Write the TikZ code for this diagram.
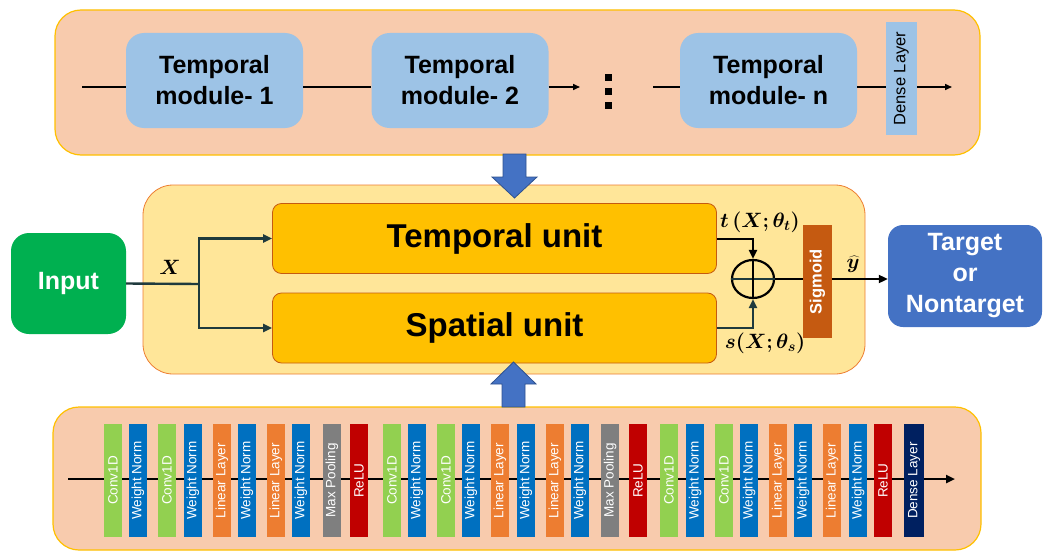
\documentclass[tikz,border=0pt]{standalone}
\usepackage{fontspec}
\setmainfont{Liberation Sans}
\usepackage{bm}
\usetikzlibrary{positioning,arrows.meta,shapes.geometric}

\definecolor{peach}{HTML}{F8CBAD}
\definecolor{gold}{HTML}{FFC000}
\definecolor{paleyellow}{HTML}{FFE699}
\definecolor{panelorange}{HTML}{ED7D31}
\definecolor{rust}{HTML}{C55A11}
\definecolor{skyblue}{HTML}{9DC3E6}
\definecolor{inputgreen}{HTML}{00B050}
\definecolor{targetblue}{HTML}{4472C4}
\definecolor{arrowedge}{HTML}{2F528F}
\definecolor{darkteal}{HTML}{1F3A3D}
\definecolor{convgreen}{HTML}{92D050}
\definecolor{normblue}{HTML}{0070C0}
\definecolor{linorange}{HTML}{ED7D31}
\definecolor{poolgray}{HTML}{7F7F7F}
\definecolor{relured}{HTML}{C00000}
\definecolor{densenavy}{HTML}{002060}

\tikzset{
  panel/.style={rounded corners=26pt, fill=peach, draw=gold, line width=1.2pt},
  midpanel/.style={rounded corners=30pt, fill=paleyellow, draw=panelorange, line width=0.8pt},
  module/.style={rounded corners=18pt, fill=skyblue, minimum width=177pt, minimum height=95pt,
    inner sep=0pt, align=center, font=\fontsize{25}{31}\selectfont\bfseries},
  unitbox/.style={rounded corners=9pt, fill=gold, draw=rust, line width=0.8pt, minimum width=444pt,
    minimum height=70pt, inner sep=0pt, font=\fontsize{33}{33}\selectfont\bfseries},
  bar/.style={rotate=90, minimum width=113pt, minimum height=18pt, inner sep=0pt, text=white,
    font=\fontsize{13.5}{13.5}\selectfont},
  mathlabel/.style={inner sep=0pt, font=\fontsize{21}{21}\selectfont},
  link/.style={line width=2pt},
  xlink/.style={line width=2.4pt, darkteal},
  thinlink/.style={line width=1.5pt},
  tip/.style={-{Triangle[length=9pt,width=8pt]}},
  smalltip/.style={-{Triangle[length=7pt,width=6pt]}},
  bigarrow/.style={fill=targetblue, draw=arrowedge, line width=0.8pt},
}

\begin{document}
\begin{tikzpicture}[x=1pt,y=-1pt]
\useasboundingbox (0,0) rectangle (1051,551);

% Temporal modules (top)
\draw[panel] (55,10) rectangle (980,155);
\coordinate (tin) at (82,87);
\coordinate (gapa) at (580,87);
\coordinate (gapb) at (653,87);
\coordinate (tout) at (952,87);
\node[module] (m1) at (214.5,80.5) {Temporal\\module- 1};
\node[module] (m2) at (460,80.5) {Temporal\\module- 2};
\node[module] (mn) at (768.5,80.5) {Temporal\\module- n};
\node[rotate=90, fill=skyblue, minimum width=113pt, minimum height=31pt, inner sep=0pt,
  font=\fontsize{16.5}{16.5}\selectfont] (dense) at (901.5,78.5) {Dense Layer};
\draw[thinlink] (tin) -- (tin -| m1.west);
\draw[thinlink] (m1.east |- tin) -- (m2.west |- tin);
\draw[thinlink,smalltip] (m2.east |- tin) -- (gapa);
\foreach \y in {77,91,105}
  \fill (605,\y-3.5) rectangle +(7,7);
\draw[thinlink] (gapb) -- (gapb -| mn.west);
\draw[thinlink] (mn.east |- tin) -- (dense.north |- tin);
\draw[thinlink,smalltip] (dense.south |- tin) -- (tout);

% Spatio-temporal block (middle)
\draw[midpanel] (143,185) rectangle (865,374);
\node[unitbox] (tu) at (494.5,238.5) {Temporal unit};
\node[unitbox] (su) at (494.5,328) {Spatial unit};
\node[rounded corners=18pt, fill=inputgreen, minimum width=115pt, minimum height=101pt, inner sep=0pt,
  text=white, font=\fontsize{25}{25}\selectfont\bfseries] (input) at (68.5,283.5) {Input};
\node[rounded corners=15pt, fill=targetblue, minimum width=154pt, minimum height=102pt, inner sep=0pt,
  text=white, align=center, font=\fontsize{25}{31}\selectfont\bfseries] (target) at (965,276) {Target\\or\\Nontarget};
\node[draw, ellipse, line width=2.2pt, minimum width=42pt, minimum height=38pt, inner sep=0pt] (plus) at (753,279) {};
\draw[xlink] (plus.west) -- (plus.east);
\draw[link] (plus.north) -- (plus.south);
\coordinate (split) at (199,284);
\draw[xlink] (input.east) -- (split);
\draw[xlink,tip] (split) |- (tu.west);
\draw[xlink,tip] (split) |- (su.west);
\draw[link,tip] (tu.east) -| (plus.north);
\draw[xlink,tip] (su.east) -| (plus.south);
\node[rotate=90, fill=rust, minimum width=113pt, minimum height=29pt, inner sep=0pt, text=white,
  font=\fontsize{16.5}{16.5}\selectfont\bfseries] (sig) at (817.5,281.5) {Sigmoid};
\draw[link] (plus.east) -- (sig.north |- plus.east);
\draw[link,tip] (sig.south |- plus.east) -- (target.west |- plus.east);
\node[mathlabel] (xlab) at (170,267) {$\bm{X}$};
\node[mathlabel] (tlab) at (760,222) {$\bm{t\,(X;\theta_t)}$};
\node[mathlabel] (slab) at (765,343) {$\bm{s(X;\theta_s)}$};
\node[mathlabel] (yhat) at (853,264) {$\bm{\widehat{y}}$};

% Layer stack (bottom)
\draw[panel] (53,407) rectangle (981,550);
\coordinate (bin) at (68,479);
\coordinate (bout) at (955,479);
\draw[line width=2.5pt,tip] (bin) -- (bout);
\foreach \x/\c/\t [count=\i] in {
  113/convgreen/Conv1D, 138/normblue/Weight Norm, 167/convgreen/Conv1D, 193/normblue/Weight Norm,
  222/linorange/Linear Layer, 247/normblue/Weight Norm, 276/linorange/Linear Layer, 301/normblue/Weight Norm,
  332/poolgray/Max Pooling, 359/relured/ReLU,
  392/convgreen/Conv1D, 417/normblue/Weight Norm, 446/convgreen/Conv1D, 471/normblue/Weight Norm,
  500/linorange/Linear Layer, 526/normblue/Weight Norm, 555/linorange/Linear Layer, 580/normblue/Weight Norm,
  610/poolgray/Max Pooling, 638/relured/ReLU,
  669/convgreen/Conv1D, 695/normblue/Weight Norm, 724/convgreen/Conv1D, 749/normblue/Weight Norm,
  778/linorange/Linear Layer, 803/normblue/Weight Norm, 832/linorange/Linear Layer, 858/normblue/Weight Norm,
  883/relured/ReLU}
  \node[bar, fill=\c] (b\i) at (\x,480.5) {\t};
\node[bar, fill=densenavy, minimum height=20pt] (bdense) at (914,480.5) {Dense Layer};

% Arrows between blocks
\draw[bigarrow] (503,154) -- (526,154) -- (526,177) -- (537,177) -- (514.5,198) -- (492,177) -- (503,177) -- cycle;
\draw[bigarrow] (502,407) -- (525,407) -- (525,384) -- (536,384) -- (513.5,362) -- (491,384) -- (502,384) -- cycle;
\end{tikzpicture}
\end{document}
